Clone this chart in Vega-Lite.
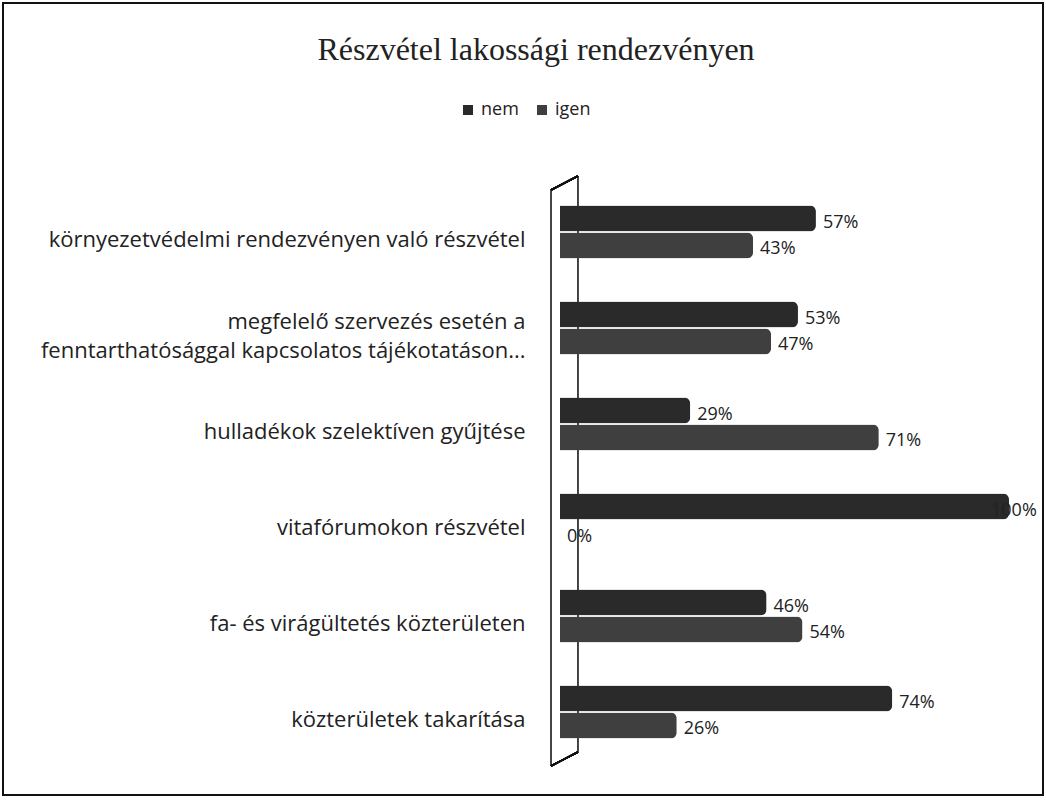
{
  "$schema": "https://vega.github.io/schema/vega-lite/v6.json",
  "width": 1040,
  "height": 792,
  "autosize": {"type": "none"},
  "padding": {"left": 3, "top": 3, "right": 3, "bottom": 8},
  "background": "white",
  "config": {
    "view": {"stroke": "#111111", "strokeWidth": 2},
    "font": "Open Sans"
  },
  "title": {
    "text": "Részvétel lakossági rendezvényen",
    "font": "Liberation Serif",
    "fontSize": 32,
    "fontWeight": "normal",
    "color": "#222222",
    "anchor": "middle",
    "baseline": "alphabetic",
    "offset": -89,
    "dx": 13
  },
  "data": {
    "values": [
      {"cat": "környezetvédelmi rendezvényen való részvétel", "series": "nem", "value": 0.57},
      {"cat": "környezetvédelmi rendezvényen való részvétel", "series": "igen", "value": 0.43},
      {"cat": "megfelelő szervezés esetén a|fenntarthatósággal kapcsolatos tájékotatáson...", "series": "nem", "value": 0.53},
      {"cat": "megfelelő szervezés esetén a|fenntarthatósággal kapcsolatos tájékotatáson...", "series": "igen", "value": 0.47},
      {"cat": "hulladékok szelektíven gyűjtése", "series": "nem", "value": 0.29},
      {"cat": "hulladékok szelektíven gyűjtése", "series": "igen", "value": 0.71},
      {"cat": "vitafórumokon részvétel", "series": "nem", "value": 1.0},
      {"cat": "vitafórumokon részvétel", "series": "igen", "value": 0.0},
      {"cat": "fa- és virágültetés közterületen", "series": "nem", "value": 0.46},
      {"cat": "fa- és virágültetés közterületen", "series": "igen", "value": 0.54},
      {"cat": "közterületek takarítása", "series": "nem", "value": 0.74},
      {"cat": "közterületek takarítása", "series": "igen", "value": 0.26}
    ]
  },
  "encoding": {
    "y": {
      "field": "cat",
      "type": "nominal",
      "sort": null,
      "scale": {"range": [181, 757], "paddingInner": 0, "paddingOuter": 0},
      "axis": {
        "title": null,
        "orient": "left",
        "offset": -522,
        "ticks": false,
        "domain": false,
        "labelPadding": 0,
        "labelFontSize": 22,
        "labelColor": "#222222",
        "labelLimit": 600,
        "labelOffset": {"condition": {"test": "indexof(datum.label, '|') >= 0", "value": -6}, "value": 8},
        "labelLineHeight": 29,
        "labelExpr": "split(datum.label, '|')"
      }
    }
  },
  "layer": [
    {
      "mark": {"type": "tick", "color": "#111111", "thickness": 1.5, "size": 96, "orient": "vertical", "yOffset": 6},
      "encoding": {
        "x": {"datum": -0.02, "type": "quantitative", "scale": {"domain": [0, 1], "range": [557, 1006]}, "axis": null}
      }
    },
    {
      "mark": {"type": "tick", "color": "#111111", "thickness": 1.5, "size": 96, "orient": "vertical", "yOffset": -8},
      "encoding": {
        "x": {"datum": 0.04, "type": "quantitative"}
      }
    },
    {
      "mark": {"type": "rule", "color": "#111111", "strokeWidth": 1.5, "yOffset": -42, "y2Offset": -56},
      "encoding": {
        "x": {"datum": -0.02, "type": "quantitative"},
        "x2": {"datum": 0.04},
        "y": {"datum": "környezetvédelmi rendezvényen való részvétel", "type": "nominal"},
        "y2": {"datum": "környezetvédelmi rendezvényen való részvétel"}
      }
    },
    {
      "mark": {"type": "rule", "color": "#111111", "strokeWidth": 1.5, "yOffset": 54, "y2Offset": 40},
      "encoding": {
        "x": {"datum": -0.02, "type": "quantitative"},
        "x2": {"datum": 0.04},
        "y": {"datum": "közterületek takarítása", "type": "nominal"},
        "y2": {"datum": "közterületek takarítása"}
      }
    },
    {
      "mark": {"type": "bar", "cornerRadiusEnd": 6},
      "encoding": {
        "x": {"field": "value", "type": "quantitative"},
        "yOffset": {"field": "series", "type": "nominal", "scale": {"domain": ["nem", "igen"], "paddingInner": 0.04, "paddingOuter": 0.8}},
        "color": {
          "field": "series",
          "type": "nominal",
          "scale": {"domain": ["nem", "igen"], "range": ["#2a2a2a", "#3f3f3f"]},
          "legend": {
            "title": null,
            "orient": "none",
            "legendX": 456,
            "legendY": 98,
            "direction": "horizontal",
            "symbolType": "square",
            "symbolSize": 100,
            "labelFontSize": 18,
            "labelColor": "#222222",
            "columnPadding": 14
          }
        }
      }
    },
    {
      "transform": [{"filter": "datum.value < 1"}],
      "mark": {"type": "text", "align": "left", "baseline": "middle", "dx": 7, "dy": 4, "fontSize": 18, "color": "#222222"},
      "encoding": {
        "x": {"field": "value", "type": "quantitative"},
        "yOffset": {"field": "series", "type": "nominal"},
        "text": {"field": "value", "type": "quantitative", "format": ".0%"}
      }
    },
    {
      "transform": [{"filter": "datum.value >= 1"}],
      "mark": {"type": "text", "align": "left", "baseline": "middle", "dx": -18, "dy": 4, "fontSize": 18, "color": "#222222"},
      "encoding": {
        "x": {"field": "value", "type": "quantitative"},
        "yOffset": {"field": "series", "type": "nominal"},
        "text": {"field": "value", "type": "quantitative", "format": ".0%"}
      }
    }
  ]
}
